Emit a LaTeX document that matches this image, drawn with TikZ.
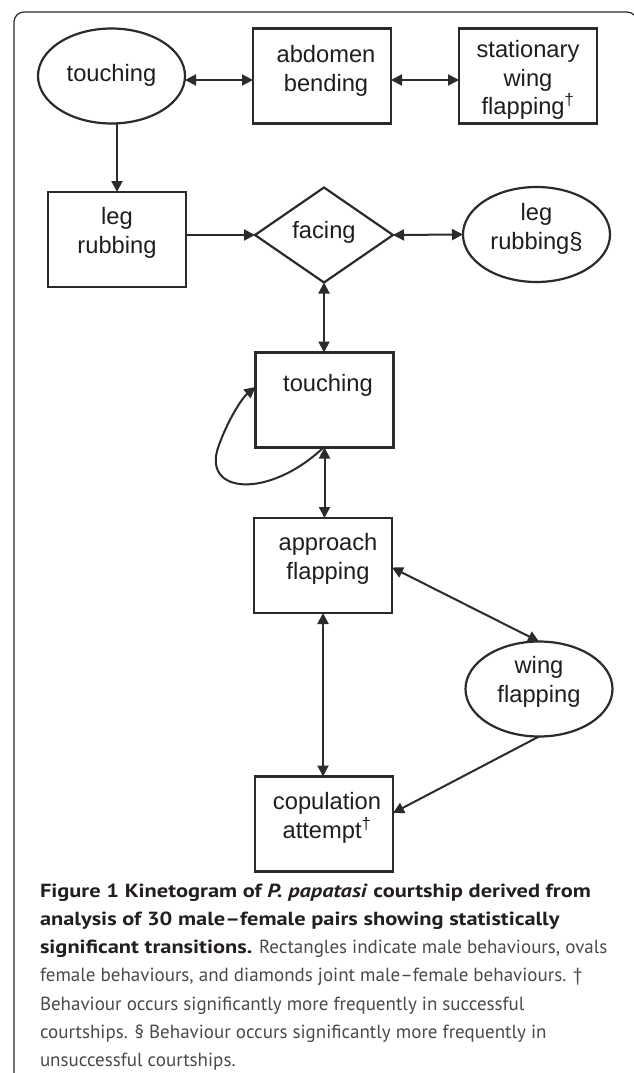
\documentclass[tikz,border=0pt]{standalone}
\usepackage{fontspec}
\setmainfont{Liberation Sans}
\newfontfamily\capfont[BoldFeatures={FakeStretch=1.18},BoldItalicFeatures={FakeStretch=1.18}]{PT Sans}
\usetikzlibrary{arrows.meta,shapes.geometric}
\definecolor{ln}{HTML}{2B2B2B}
\definecolor{txt}{HTML}{1E1E1E}
\definecolor{capbold}{HTML}{231F20}
\definecolor{capreg}{HTML}{4A4A4A}
\begin{document}
\begin{tikzpicture}[x=1pt,y=-1pt,
  every node/.style={inner sep=0pt,outer sep=0pt},
  box/.style={draw=ln,line width=2.3pt,minimum width=138pt,minimum height=95pt},
  oval/.style={draw=ln,ellipse,line width=2.2pt,minimum width=147pt,minimum height=95pt},
  dia/.style={draw=ln,diamond,line width=2.2pt,minimum width=138pt,minimum height=95pt},
  lbl/.style={font=\fontsize{23.7}{28.3}\selectfont,align=center,text=txt},
  mytip/.tip={Triangle[length=11pt,width=11pt]},
  arr/.style={draw=ln,line width=2pt,-mytip},
  darr/.style={draw=ln,line width=2pt,mytip-mytip},
  frameline/.style={draw=ln,line width=1.2pt,rounded corners=10pt},
  captxt/.style={font=\capfont\fontsize{19}{28.3}\selectfont,text=capreg,anchor=base west},
  capbold/.style={captxt,font=\capfont\bfseries\fontsize{19}{28.3}\selectfont,text=capbold}
]
\useasboundingbox (0,0) rectangle (633,1073);
\fill[white] (0,0) rectangle (633,1073);
\draw[frameline] (14,1090) -- (14,12) -- (637,12) -- (637,1090);

% shapes
\node[oval] (t1) at (111.5,76) {};
\node[box]  (ab) at (322,76) {};
\node[box]  (sw) at (528,76) {};
\node[box]  (lr) at (117,239.5) {};
\node[dia]  (fa) at (324,235) {};
\node[oval] (lr2) at (536.5,234.5) {};
\node[box]  (to) at (324.5,400) {};
\node[box]  (ap) at (323,565.5) {};
\node[oval] (wf) at (539,689) {};
\node[box]  (co) at (324,824) {};

% labels
\node[lbl] (t1l) at (111.5,75) {touching};
\node[lbl] (abl) at (326,71) {abdomen\\bending};
\node[lbl] (swl) at (528,80) {stationary\\wing\\flapping\textsuperscript{†}};
\node[lbl] (lrl) at (117,233) {leg\\rubbing};
\node[lbl] (fal) at (324,232) {facing};
\node[lbl] (lr2l) at (536.5,229) {leg\\rubbing§};
\node[lbl] (tol) at (328,385) {touching};
\node[lbl] (apl) at (328,559) {approach\\flapping};
\node[lbl] (wfl) at (539,682) {wing\\flapping};
\node[lbl] (col) at (327,818) {copulation\\attempt\textsuperscript{†}};

% connectors
\draw[darr] ([yshift=-4pt]t1.east) -- ([yshift=-4pt]ab.west);
\draw[darr] ([yshift=-4pt]ab.east) -- ([yshift=-4pt]sw.west);
\draw[arr] (lr.north |- t1.south) -- (lr.north);
\draw[arr] (lr.east |- fa.west) -- (fa.west);
\draw[darr] (fa.east) -- (lr2.west);
\draw[darr] (fa.south) -- (fa.south |- to.north);
\draw[arr] ([xshift=-1pt]to.south) .. controls (268,500) and (200,494) .. (219,445)
  .. controls (228,420) and (242,398) .. ([yshift=13pt]to.west);
\draw[darr] (to.south) -- (to.south |- ap.north);
\draw[darr] ([yshift=-2pt]ap.east) -- (wf.north);
\draw[arr] (wf.south) -- ([yshift=11pt]co.east);
\draw[darr] (ap.south) -- (ap.south |- co.north);

% caption
\node[capbold] (c1) at (40,897) {Figure 1 Kinetogram of \textit{P. papatasi} courtship derived from};
\node[capbold] (c2) at (40,925.3) {analysis of 30 male–female pairs showing statistically};
\node[captxt] (c3) at (40,953.6) {{\bfseries\color{capbold}significant transitions.} Rectangles indicate male behaviours, ovals};
\node[captxt] (c4) at (40,981.9) {female behaviours, and diamonds joint male–female behaviours. †};
\node[captxt] (c5) at (40,1010.2) {Behaviour occurs significantly more frequently in successful};
\node[captxt] (c6) at (40,1038.5) {courtships. § Behaviour occurs significantly more frequently in};
\node[captxt] (c7) at (40,1066.8) {unsuccessful courtships.};
\end{tikzpicture}
\end{document}
